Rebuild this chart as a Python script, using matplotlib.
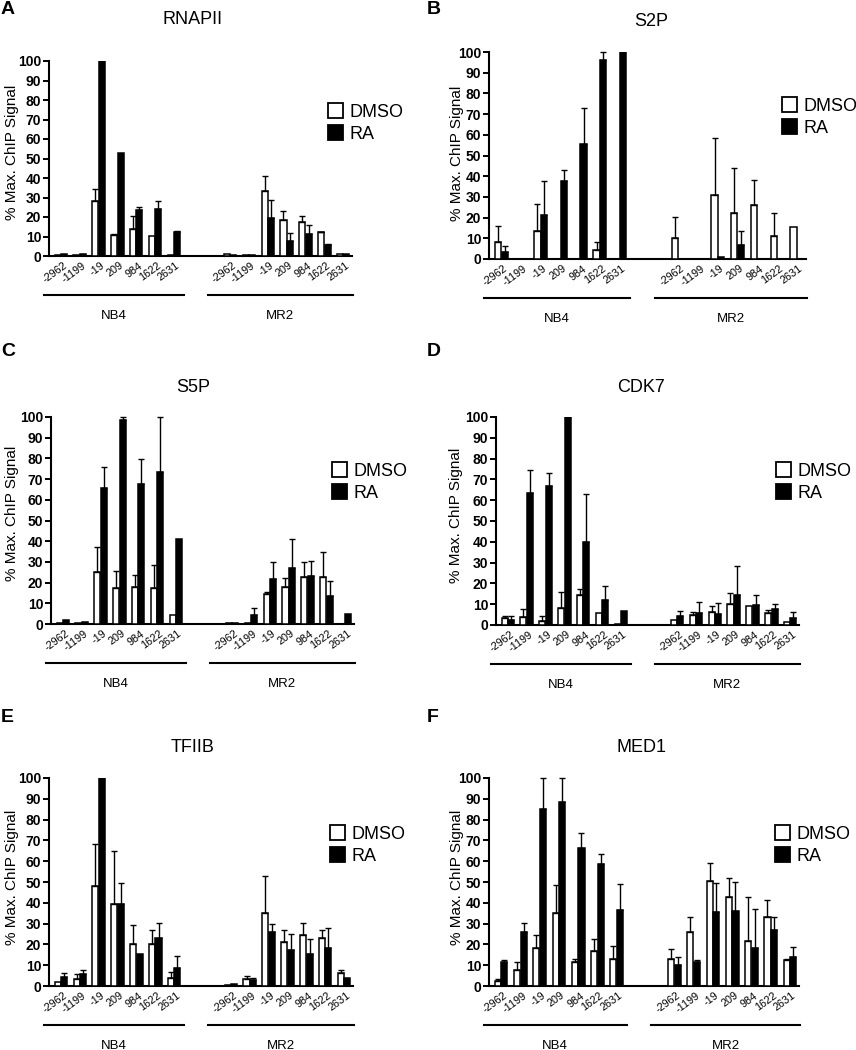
import matplotlib
matplotlib.use('Agg')
import matplotlib.pyplot as plt
from matplotlib.patches import Patch
import matplotlib.transforms as mtransforms
import numpy as np

plt.rcParams['font.family'] = ['Liberation Sans', 'DejaVu Sans']

# ---------------- data ----------------
positions = ['-2962', '-1199', '-19', '209', '984', '1622', '2631']
cell_lines = ['NB4', 'MR2']
conditions = ['DMSO', 'RA']
titles = ['RNAPII', 'S2P', 'S5P', 'CDK7', 'TFIIB', 'MED1']
letters = ['A', 'B', 'C', 'D', 'E', 'F']

# values: 7 NB4 positions followed by 7 MR2 positions; *_err = upper SEM
rnapii_dmso     = [0.5, 0.5, 28.4, 10.6, 13.7, 10.3, 0.5,   1.0, 0.7, 33.5, 18.6, 17.4, 12.1, 1.2]
rnapii_dmso_err = [0, 0, 5.8, 0.5, 7.0, 0, 0,               0, 0, 7.5, 4.6, 3.1, 0.4, 0]
rnapii_ra       = [1.0, 1.0, 100, 53, 23.6, 23.9, 12.1,     0.7, 0.3, 19.5, 7.9, 11.3, 5.8, 1.0]
rnapii_ra_err   = [0, 0, 0, 0, 1.7, 4.1, 0.6,               0, 0, 9.0, 4.1, 4.7, 0.4, 0]

s2p_dmso        = [8.0, 0, 13.5, 0, 0, 4.2, 0,              10.3, 0, 30.7, 22.2, 26.2, 11.1, 15.7]
s2p_dmso_err    = [8.0, 0, 13.1, 0, 0, 3.8, 0,              9.9, 0, 27.6, 21.9, 11.8, 10.9, 0]
s2p_ra          = [3.4, 0, 21.2, 37.9, 55.5, 96, 100,       0, 0, 0.8, 6.9, 0, 0, 0]
s2p_ra_err      = [3.0, 0, 16.4, 5.1, 17.4, 4.0, 0,         0, 0, 0, 6.6, 0, 0, 0]

s5p_dmso        = [0.7, 0.5, 25.2, 17.2, 18.1, 17.5, 4.3,   0.3, 0.3, 14.4, 18.0, 22.8, 22.8, 0]
s5p_dmso_err    = [0, 0, 12.2, 8.6, 5.5, 10.9, 0,           0, 0, 1.0, 4.2, 7.2, 12.0, 0]
s5p_ra          = [2.1, 1.0, 65.7, 98.7, 67.6, 73.2, 41.1,  0.5, 4.2, 21.7, 27.0, 23.3, 13.6, 5.0]
s5p_ra_err      = [0, 0, 10.2, 1.3, 11.9, 26.8, 0,          0, 3.5, 8.2, 14.3, 7.2, 7.1, 0]

cdk7_dmso       = [3.2, 4.0, 2.1, 8.2, 14.6, 5.6, 0.7,      2.6, 4.6, 6.2, 10.1, 9.0, 5.6, 1.6]
cdk7_dmso_err   = [1.3, 3.5, 2.4, 7.8, 2.5, 0, 0,           0, 1.6, 2.8, 5.1, 0, 1.4, 0]
cdk7_ra         = [2.4, 63.5, 66.7, 100, 40.0, 12.2, 6.6,   4.5, 5.8, 5.4, 14.4, 9.8, 7.5, 3.4]
cdk7_ra_err     = [2.1, 11.2, 6.4, 0, 22.9, 6.7, 0,         2.1, 5.4, 5.2, 13.9, 4.8, 2.6, 2.8]

tfiib_dmso      = [2.1, 3.5, 48.2, 39.4, 20.1, 20.4, 4.0,   0.3, 3.5, 35.2, 21.2, 24.6, 23.3, 6.3]
tfiib_dmso_err  = [0, 2.4, 20.1, 25.7, 9.0, 6.4, 2.8,       0, 1.2, 17.7, 5.6, 5.5, 3.5, 1.6]
tfiib_ra        = [4.3, 5.9, 100, 39.4, 15.6, 23.3, 8.8,    1.0, 2.7, 26.0, 17.5, 15.6, 18.3, 3.7]
tfiib_ra_err    = [2.1, 2.0, 0, 10.1, 0, 7.1, 5.7,          0, 1.0, 3.7, 7.7, 7.2, 9.4, 0]

med1_dmso       = [2.4, 7.9, 18.2, 34.9, 11.4, 16.6, 13.0,  12.9, 25.9, 50.3, 42.9, 21.7, 33.3, 12.7]
med1_dmso_err   = [1.1, 3.8, 6.4, 13.6, 1.5, 5.9, 6.1,      5.1, 7.4, 8.9, 8.9, 21.2, 8.0, 0.5]
med1_ra         = [11.3, 26.2, 85.2, 88.6, 66.2, 58.5, 36.5, 10.0, 11.3, 35.4, 36.2, 18.5, 27.0, 13.8]
med1_ra_err     = [1.1, 4.2, 14.8, 11.4, 7.3, 4.8, 12.5,    4.0, 1.1, 14.0, 14.0, 18.5, 6.1, 5.0]

panel_data = [
    (rnapii_dmso, rnapii_dmso_err, rnapii_ra, rnapii_ra_err),
    (s2p_dmso, s2p_dmso_err, s2p_ra, s2p_ra_err),
    (s5p_dmso, s5p_dmso_err, s5p_ra, s5p_ra_err),
    (cdk7_dmso, cdk7_dmso_err, cdk7_ra, cdk7_ra_err),
    (tfiib_dmso, tfiib_dmso_err, tfiib_ra, tfiib_ra_err),
    (med1_dmso, med1_dmso_err, med1_ra, med1_ra_err),
]

# ---------------- layout (pixels) ----------------
W, H = 856, 1050
# axes rect: left, top, right, bottom
axes_px = [(49, 61, 352, 256), (489, 52, 806, 259),
           (51, 417, 354, 624), (496, 417, 799, 625),
           (49, 778, 353, 986), (489, 778, 799, 986)]
title_px = [(193, 20), (651, 22), (193, 387), (641, 387), (193, 747), (641, 747)]
letter_px = [(8, 9), (434, 9), (8, 351), (434, 351), (7, 718), (433, 718)]
ylabel_px = [(12, 152), (457, 153), (12, 513), (456, 515), (12, 877), (457, 877)]
legend_px = [(328, 123), (782, 117), (332, 482), (776, 482), (330, 845), (775, 845)]

fig = plt.figure(figsize=(W / 100, H / 100), dpi=100)

xpos = np.array(list(range(7)) + list(range(9, 16)), dtype=float)
bw = 0.32
off = 0.17
xlim = (-0.63, 15.47)
group_spans = [(-0.9, 6.52), (7.8, 15.5)]


def fx(px):
    return px / W


def fy(py):
    return 1 - py / H


for k in range(6):
    l, t, r, b = axes_px[k]
    ax = fig.add_axes([fx(l), fy(b), (r - l) / W, (b - t) / H])
    dm, dme, ra, rae = [np.asarray(v, dtype=float) for v in panel_data[k]]

    ax.bar(xpos - off, dm, bw, color='white', edgecolor='black', linewidth=1.1, zorder=3)
    ax.bar(xpos + off, ra, bw, color='black', edgecolor='black', linewidth=1.1, zorder=3)
    for xs, vals, errs in ((xpos - off, dm, dme), (xpos + off, ra, rae)):
        m = errs > 0
        cont = ax.errorbar(xs[m], vals[m], yerr=[np.zeros(m.sum()), errs[m]], fmt='none',
                           ecolor='black', elinewidth=1.0, capsize=2.5, capthick=1.0, zorder=4)
        for child in cont.get_children():
            child.set_clip_on(False)

    ax.set_xlim(*xlim)
    ax.set_ylim(0, 100)
    ax.set_yticks(range(0, 101, 10))
    ax.set_yticklabels([str(v) for v in range(0, 101, 10)], fontsize=10, fontweight='bold')
    ax.tick_params(axis='y', length=4, width=1.4, pad=1.5)
    ax.set_xticks(xpos + 0.1)
    ax.set_xticklabels(positions * 2, rotation=36, ha='right', va='top',
                       rotation_mode='anchor', fontsize=7.8)
    ax.tick_params(axis='x', length=0, pad=3.2)
    for s in ('top', 'right'):
        ax.spines[s].set_visible(False)
    for s in ('left', 'bottom'):
        ax.spines[s].set_linewidth(1.5)

    hpx = b - t
    trans = mtransforms.blended_transform_factory(ax.transData, ax.transAxes)
    for (x0, x1), name in zip(group_spans, cell_lines):
        ax.plot([x0, x1], [-39 / hpx, -39 / hpx], color='black', lw=1.5,
                transform=trans, clip_on=False)
        ax.text((x0 + x1) / 2, -60 / hpx, name, transform=trans, ha='center',
                va='center', fontsize=9.5)

    fig.text(fx(title_px[k][0]), fy(title_px[k][1]), titles[k], ha='center',
             va='center', fontsize=13)
    fig.text(fx(letter_px[k][0]), fy(letter_px[k][1]), letters[k], ha='center',
             va='center', fontsize=14, fontweight='bold')
    fig.text(fx(ylabel_px[k][0]), fy(ylabel_px[k][1]), '% Max. ChIP Signal',
             rotation=90, ha='center', va='center', fontsize=11)

    handles = [Patch(facecolor='white', edgecolor='black', linewidth=1.3),
               Patch(facecolor='black', edgecolor='black', linewidth=1.3)]
    fig.legend(handles, conditions, loc='center left',
               bbox_to_anchor=(fx(legend_px[k][0]), fy(legend_px[k][1])),
               frameon=False, fontsize=13, handlelength=0.85, handleheight=0.85,
               handletextpad=0.35, labelspacing=0.25, borderpad=0, borderaxespad=0)

fig.savefig('out.png', dpi=100)
